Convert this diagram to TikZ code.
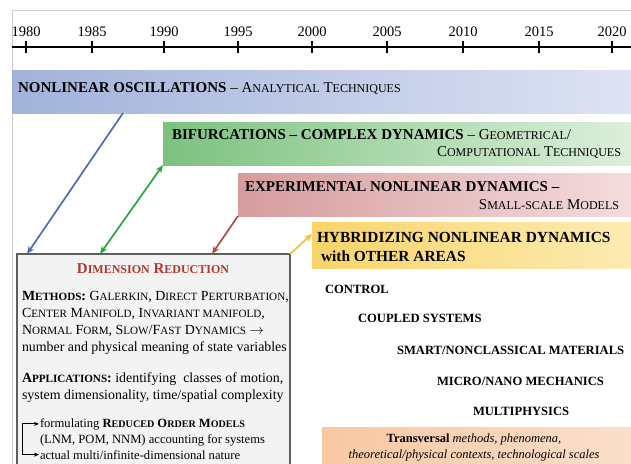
\documentclass[tikz,border=0pt]{standalone}
\usepackage{fontspec}
\setmainfont{Liberation Serif}
\usetikzlibrary{arrows.meta}
\definecolor{OscBlue}{HTML}{A2B2DA}
\definecolor{OscPale}{HTML}{DDE3F3}
\definecolor{BifGreen}{HTML}{7CC27F}
\definecolor{BifPale}{HTML}{DCEFDB}
\definecolor{ExpRed}{HTML}{D69C9E}
\definecolor{ExpPale}{HTML}{F4DCDD}
\definecolor{HybGold}{HTML}{F8D46A}
\definecolor{HybPale}{HTML}{FDEBB3}
\definecolor{TrOrange}{HTML}{F8C8A2}
\definecolor{TrPale}{HTML}{FBDFCB}
\definecolor{ArrBlue}{HTML}{4F6BB5}
\definecolor{ArrGreen}{HTML}{25A844}
\definecolor{ArrRed}{HTML}{B8473F}
\definecolor{ArrGold}{HTML}{F2C23C}
\definecolor{TitleRed}{HTML}{B5372B}
\definecolor{BoxGray}{HTML}{F3F3F4}
\definecolor{BoxEdge}{HTML}{5E5E5E}
\makeatletter
\newcommand\lsc[1]{{\fontsize{\strip@pt\dimexpr0.8\dimexpr\f@size pt\relax\relax}{\f@baselineskip}\selectfont #1}}
\makeatother

\begin{document}
\begin{tikzpicture}[x=1pt,y=-1pt,
      every node/.style={inner sep=0pt,outer sep=0pt},
      band/.style={anchor=north west,minimum height=43pt,draw=none},
      head/.style={anchor=base west,font=\fontsize{15}{18}\selectfont},
      body/.style={anchor=base west,font=\fontsize{13.9}{17}\selectfont},
      small/.style={anchor=base west,font=\fontsize{12.6}{15}\selectfont},
      topic/.style={anchor=base west,font=\fontsize{12.6}{15}\selectfont\bfseries},
      year/.style={anchor=base,font=\fontsize{14.5}{17}\selectfont},
      link/.style={line width=1.7pt},
      tip/.style={-{Stealth[length=8pt,width=6.5pt]}},
      tips/.style={{Stealth[length=8pt,width=6.5pt]}-{Stealth[length=8pt,width=6.5pt]}}
    ]
      \useasboundingbox (0,0) rectangle (631,463);
      \draw[gray!40,line width=0.8pt] (12,470) |- (631,10);

      \draw[line width=1.4pt] (12,47) -- (631,47);
      \foreach \yr/\xx in {1980/26,1985/92,1990/164,1995/238,2000/312,2005/387,2010/463,2015/539,2020/612}{
        \node[year] (y\yr) at (\xx,36) {\yr};
        \draw[line width=1.6pt] (\xx,41) -- (\xx,53);
      }

      \node[band,minimum width=619pt,left color=OscBlue,right color=OscPale] (osc) at (12,70) {};
      \node[band,minimum width=468pt,left color=BifGreen,right color=BifPale] (bif) at (163,122) {};
      \node[band,minimum width=393pt,left color=ExpRed,right color=ExpPale] (exp) at (238,173) {};
      \node[band,minimum width=319pt,minimum height=46pt,left color=HybGold,right color=HybPale] (hyb) at (312,222) {};
      \node[band,minimum width=309pt,minimum height=40pt,left color=TrOrange,right color=TrPale] (trans) at (322,427) {};

      \node[head] (osct) at (18,92)
        {\textbf{NONLINEAR OSCILLATIONS} -- A\lsc{NALYTICAL} T\lsc{ECHNIQUES}};
      \node[head] (bift1) at (172,139)
        {\textbf{BIFURCATIONS -- COMPLEX DYNAMICS} -- G\lsc{EOMETRICAL}/};
      \node[head,anchor=base east] (bift2) at (621,156) {C\lsc{OMPUTATIONAL} T\lsc{ECHNIQUES}};
      \node[head] (expt1) at (245,191) {\textbf{EXPERIMENTAL NONLINEAR DYNAMICS --}};
      \node[head,anchor=base east] (expt2) at (619,209) {S\lsc{MALL-SCALE} M\lsc{ODELS}};
      \node[head,font=\fontsize{15.4}{18}\selectfont\bfseries] (hybt1) at (317,242)
        {HYBRIDIZING NONLINEAR DYNAMICS};
      \node[head,font=\fontsize{15.4}{18}\selectfont\bfseries] (hybt2) at (321,261) {with OTHER AREAS};

      \node[topic] (ctrl) at (325,293.5) {CONTROL};
      \node[topic] (coupl) at (358,322.5) {COUPLED SYSTEMS};
      \node[topic] (smart) at (397,354.5) {SMART/NONCLASSICAL MATERIALS};
      \node[topic] (micro) at (437,385.5) {MICRO/NANO MECHANICS};
      \node[topic] (multi) at (473,415.5) {MULTIPHYSICS};

      \node[small,anchor=base,font=\fontsize{12.5}{15}\selectfont] (tr1) at (474,442.5)
        {\textbf{Transversal} \textit{methods, phenomena,}};
      \node[small,anchor=base,font=\fontsize{12.5}{15}\selectfont] (tr2) at (474,458)
        {\textit{theoretical/physical contexts, technological scales}};

      \node[anchor=north west,minimum width=273pt,minimum height=215pt,
            fill=BoxGray,draw=BoxEdge,line width=1.8pt] (dimred) at (17,254) {};
      \node[anchor=base,font=\fontsize{15}{18}\selectfont\bfseries,text=TitleRed] (drt) at (153,273)
        {D\lsc{IMENSION} R\lsc{EDUCTION}};
      \node[body] (m1) at (22,300) {\textbf{M\lsc{ETHODS}:} G\lsc{ALERKIN}, D\lsc{IRECT} P\lsc{ERTURBATION},};
      \node[body] (m2) at (22,317) {C\lsc{ENTER} M\lsc{ANIFOLD}, I\lsc{NVARIANT MANIFOLD},};
      \node[body] (m3) at (22,334) {N\lsc{ORMAL} F\lsc{ORM}, S\lsc{LOW}/F\lsc{AST} D\lsc{YNAMICS} $\rightarrow$};
      \node[body] (m4) at (22,351) {number and physical meaning of state variables};
      \node[body] (a1) at (22,382) {\textbf{A\lsc{PPLICATIONS}:} identifying\ \ classes of motion,};
      \node[body] (a2) at (22,399) {system dimensionality, time/spatial complexity};
      \node[small] (r1) at (40,427) {formulating \textbf{R\lsc{EDUCED} O\lsc{RDER} M\lsc{ODELS}}};
      \node[small] (r2) at (40,443) {(LNM, POM, NNM) accounting for systems};
      \node[small] (r3) at (40,459) {actual multi/infinite-dimensional nature};

      \draw[line width=1pt,{Stealth[length=5pt,width=4pt]}-{Stealth[length=5pt,width=4pt]}]
        ([xshift=-1pt]r1.west) -- ++(-17,0) |- ([xshift=-1pt]r3.west);

      \draw[link,tip,ArrBlue] ([xshift=111pt]osc.south west) -- ([xshift=10pt]dimred.north west);
      \draw[link,tips,ArrGreen] ([xshift=83pt]dimred.north west) -- (bif.south west);
      \draw[link,tip,ArrRed] (exp.south west) -- ([xshift=195pt]dimred.north west);
      \draw[link,tip,ArrGold] (dimred.north east) -- ([yshift=-12pt]hyb.north west);
    \end{tikzpicture}
\end{document}
